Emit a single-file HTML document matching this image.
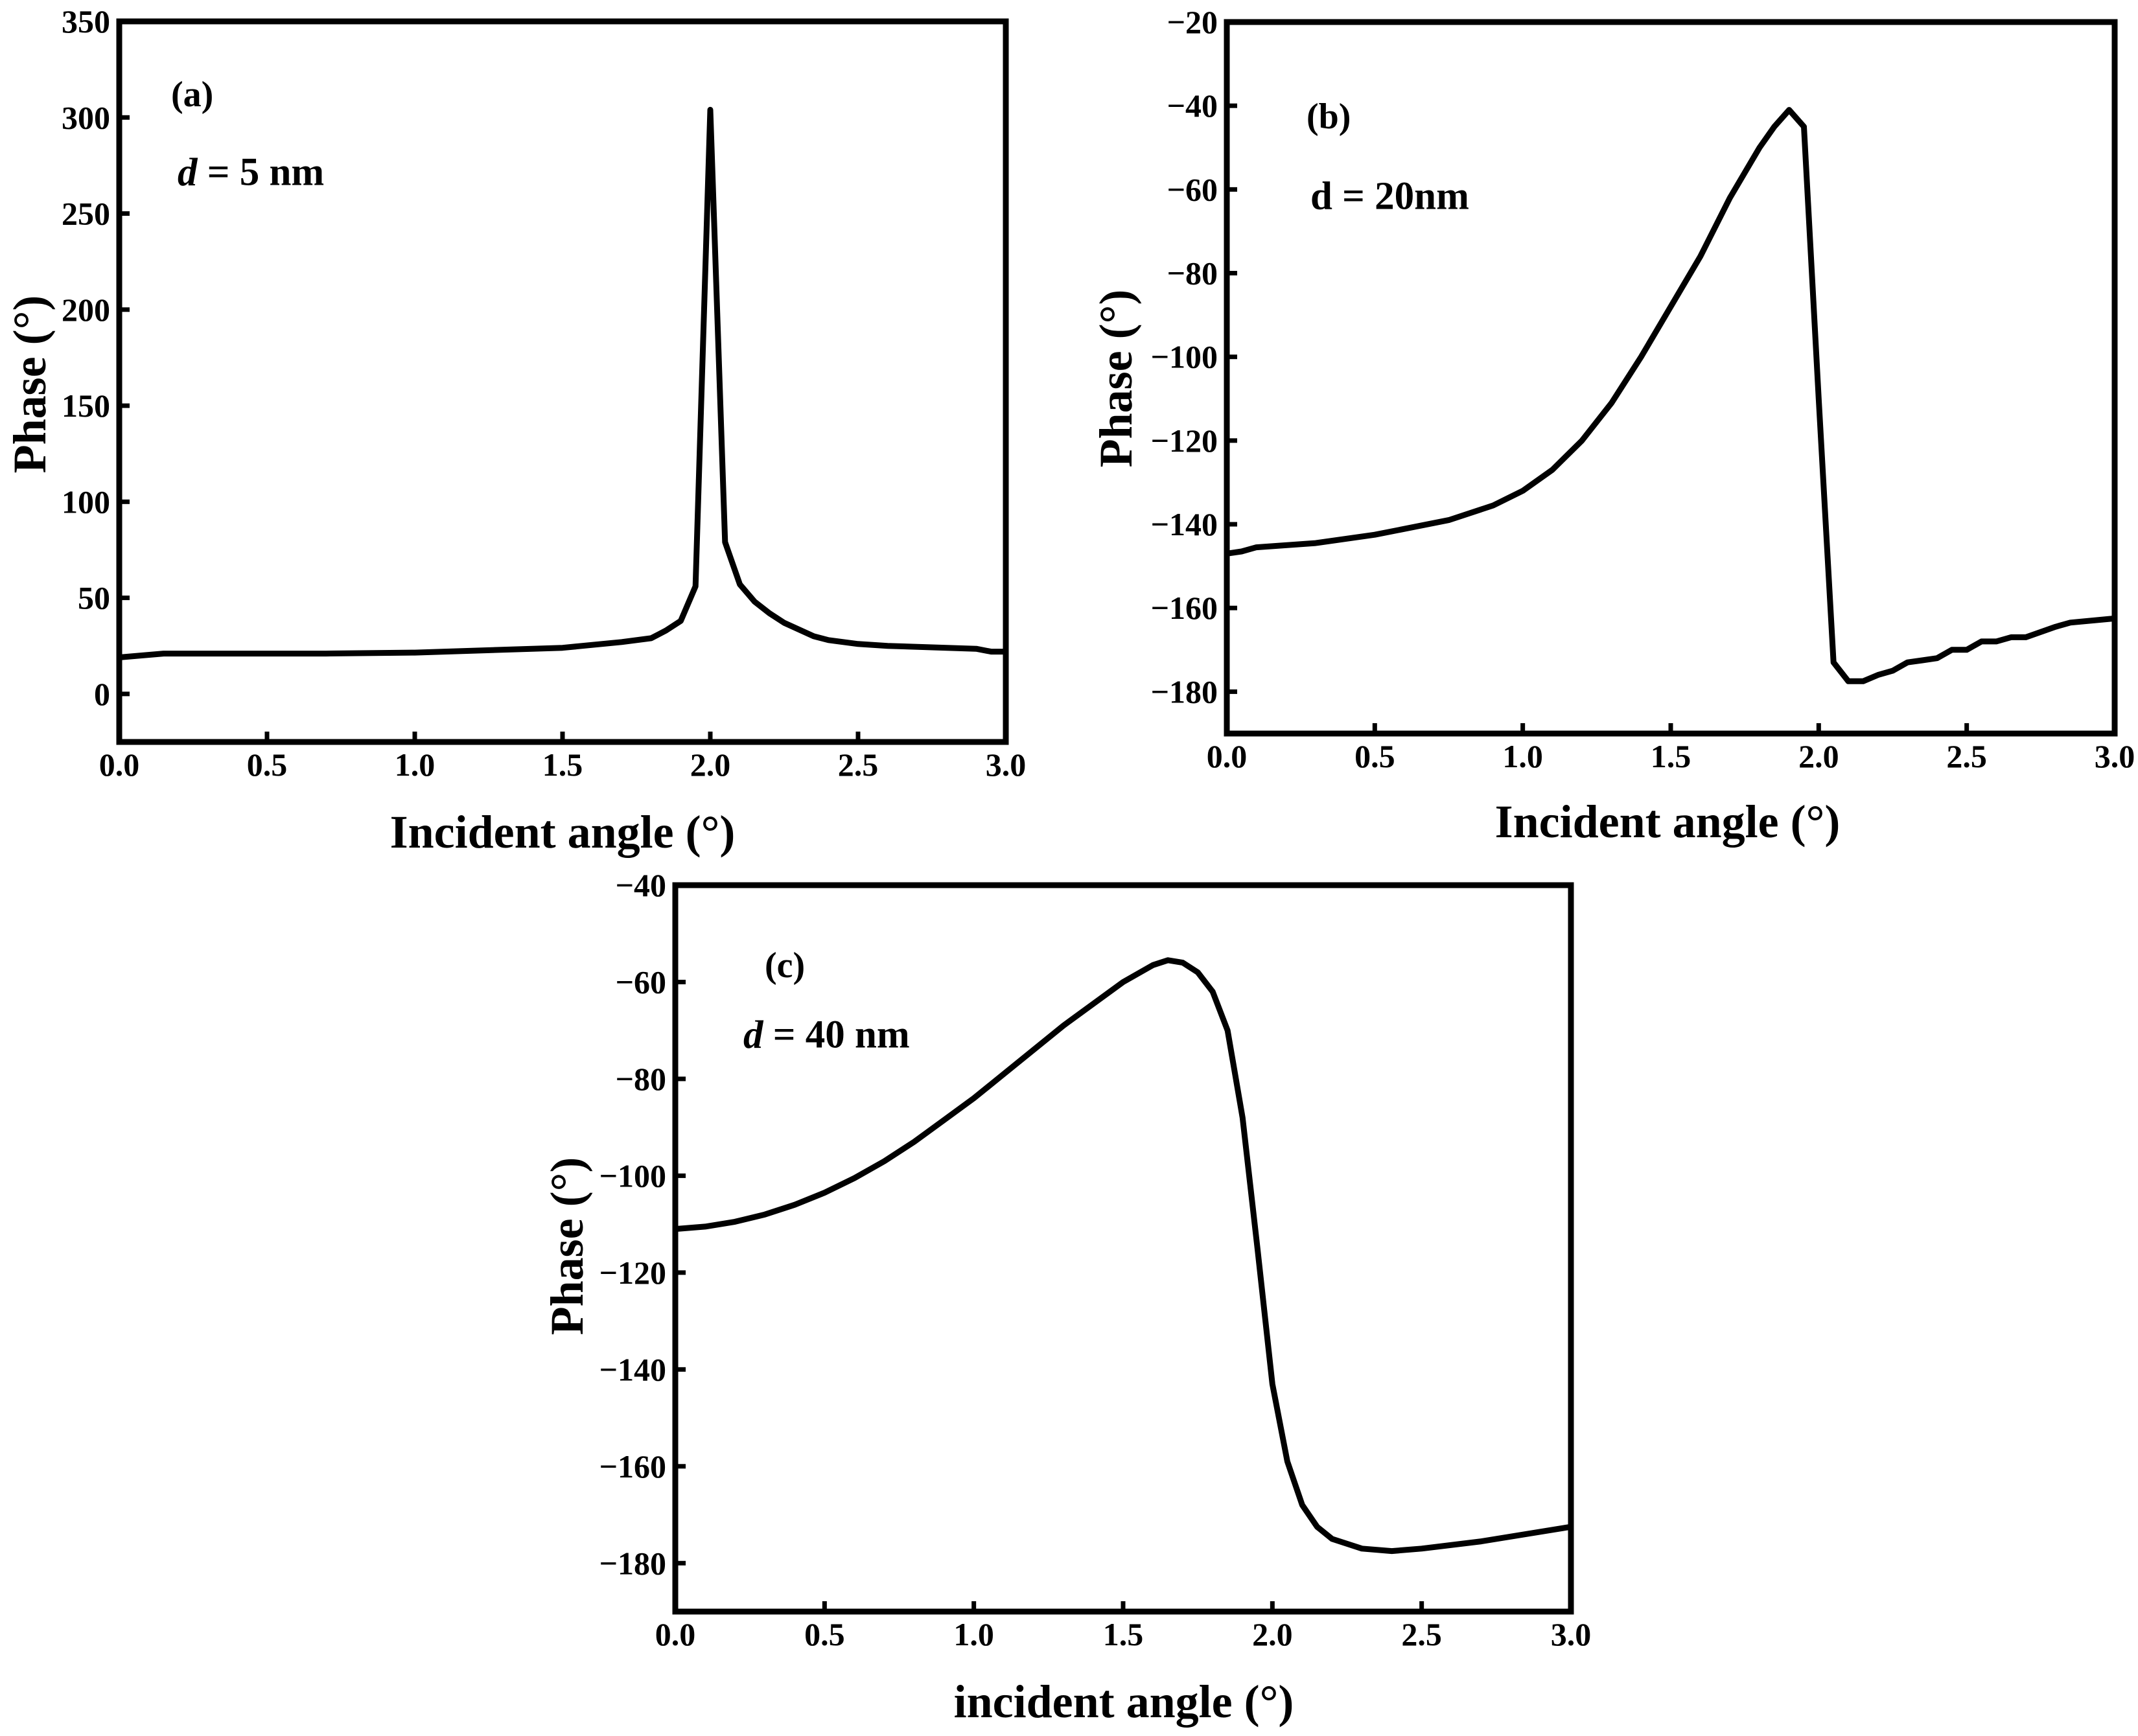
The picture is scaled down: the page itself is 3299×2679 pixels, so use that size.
<!DOCTYPE html>
<html><head><meta charset="utf-8"><style>
html,body{margin:0;padding:0;background:#fff}
svg{display:block}
text{font-family:"Liberation Serif",serif;font-weight:bold;fill:#000}
</style></head><body>
<svg id="fig" width="3299" height="2679" viewBox="0 0 3299 2679" xmlns="http://www.w3.org/2000/svg"></svg>
<script>
const xTicks=[0,0.5,1.0,1.5,2.0,2.5,3.0];
const xTickLabels=["0.0","0.5","1.0","1.5","2.0","2.5","3.0"];
const aX=[0,0.15,0.3,0.7,1.0,1.5,1.7,1.8,1.85,1.9,1.95,2.0,2.05,2.1,2.15,2.2,2.25,2.35,2.4,2.5,2.6,2.9,2.95,3.0];
const aY=[19,21,21,21,21.5,24,27,29,33,38,56,304,79,57,48,42,37,30,28,26,25,23.5,22,22];
const aYTicks=[0,50,100,150,200,250,300,350];
const bX=[0,0.05,0.1,0.3,0.5,0.75,0.9,1.0,1.1,1.2,1.3,1.4,1.5,1.6,1.7,1.8,1.85,1.9,1.95,2.0,2.05,2.1,2.15,2.2,2.25,2.3,2.35,2.4,2.45,2.5,2.55,2.6,2.65,2.7,2.8,2.85,3.0];
const bY=[-147,-146.5,-145.5,-144.5,-142.5,-139,-135.5,-132,-127,-120,-111,-100,-88,-76,-62,-50,-45,-41,-45,-110,-173,-177.5,-177.5,-176,-175,-173,-172.5,-172,-170,-170,-168,-168,-167,-167,-164.5,-163.5,-162.5];
const bYTicks=[-180,-160,-140,-120,-100,-80,-60,-40,-20];
const cX=[0,0.1,0.2,0.3,0.4,0.5,0.6,0.7,0.8,0.9,1.0,1.1,1.2,1.3,1.4,1.5,1.6,1.65,1.7,1.75,1.8,1.85,1.9,1.95,2.0,2.05,2.1,2.15,2.2,2.3,2.4,2.5,2.7,3.0];
const cY=[-111,-110.5,-109.5,-108,-106,-103.5,-100.5,-97,-93,-88.5,-84,-79,-74,-69,-64.5,-60,-56.5,-55.5,-56,-58,-62,-70,-88,-115,-143,-159,-168,-172.5,-175,-177,-177.5,-177,-175.5,-172.5];
const cYTicks=[-180,-160,-140,-120,-100,-80,-60,-40];

const NS="http://www.w3.org/2000/svg";
const svg=document.getElementById('fig');
function mk(tag,attrs,parent){const e=document.createElementNS(NS,tag);for(const k in attrs)e.setAttribute(k,attrs[k]);(parent||svg).appendChild(e);return e;}

function panel(p){
  const g=mk('g',{});
  
  
  const sx=v=>p.l+(v-0)/(3-0)*(p.r-p.l);
  const sy=v=>p.b-(v-p.ymin)/(p.ymax-p.ymin)*(p.b-p.t);
  xTicks.forEach((v,i)=>{
    const t=mk('line',{x1:sx(v),x2:sx(v),y1:p.b,y2:p.b-16,stroke:'#000','stroke-width':7},g);
    
    
    const tx=mk('text',{x:sx(v),y:p.xlY,'font-size':50,'text-anchor':'middle','dominant-baseline':'central'},g);
    
    
    tx.textContent=xTickLabels[i];
  });
  p.yt.forEach(v=>{
    const t=mk('line',{x1:p.l,x2:p.l+16,y1:sy(v),y2:sy(v),stroke:'#000','stroke-width':7},g);
    
    
    const tx=mk('text',{x:p.l-14,y:sy(v),'font-size':50,'text-anchor':'end','dominant-baseline':'central'},g);
    
    
    tx.textContent=(v<0?'\u2212'+Math.abs(v):String(v));
  });
  const pts=p.xs.map((x,i)=>sx(x).toFixed(1)+','+sy(p.ys[i]).toFixed(1)).join(' ');
  const ln=mk('polyline',{points:pts,fill:'none',stroke:'#000','stroke-width':9,'stroke-linejoin':'round'},g);
  
  
  const fr=mk('rect',{x:p.l,y:p.t,width:p.r-p.l,height:p.b-p.t,fill:'none',stroke:'#000','stroke-width':9},g);
  
  
  const xt=mk('text',{x:p.xtX,y:p.xtY,'font-size':72,'text-anchor':'middle','dominant-baseline':'central'},g);
  
  
  xt.textContent=p.xtitle;
  const yt=mk('text',{x:0,y:0,'font-size':72,'text-anchor':'middle','dominant-baseline':'central',transform:`translate(${p.ytX},${p.ytY}) rotate(-90)`},g);
  
  
  yt.textContent='Phase (\u00B0)';
  const lb=mk('text',{x:p.lbX,y:p.lbY,'font-size':56,'dominant-baseline':'central'},g);
  
  
  lb.textContent=p.label;
  const an=mk('text',{x:p.dX,y:p.dY,'font-size':61,'dominant-baseline':'central'},g);
  
  
  an.innerHTML=p.dtext;
}
panel({name:'panel-a',l:184,r:1552,t:33,b:1145,ymin:-25,ymax:350,yt:aYTicks,xs:aX,ys:aY,xlY:1180,xtX:868,xtY:1284,xtitle:'Incident angle (\u00B0)',ytX:46,ytY:593,lbX:264,lbY:146,label:'(a)',dX:274,dY:266,dtext:'<tspan font-style="italic">d</tspan> = 5 nm'});
panel({name:'panel-b',l:1893,r:3263,t:34,b:1132,ymin:-190,ymax:-20,yt:bYTicks,xs:bX,ys:bY,xlY:1167,xtX:2573,xtY:1268,xtitle:'Incident angle (\u00B0)',ytX:1722,ytY:584,lbX:2016,lbY:180,label:'(b)',dX:2022,dY:303,dtext:'d = 20nm'});
panel({name:'panel-c',l:1042,r:2424,t:1366,b:2487,ymin:-190,ymax:-40,yt:cYTicks,xs:cX,ys:cY,xlY:2522,xtX:1734,xtY:2626,xtitle:'incident angle (\u00B0)',ytX:875,ytY:1923,lbX:1180,lbY:1490,label:'(c)',dX:1147,dY:1597,dtext:'<tspan font-style="italic">d</tspan> = 40 nm'});
</script>
</body></html>
